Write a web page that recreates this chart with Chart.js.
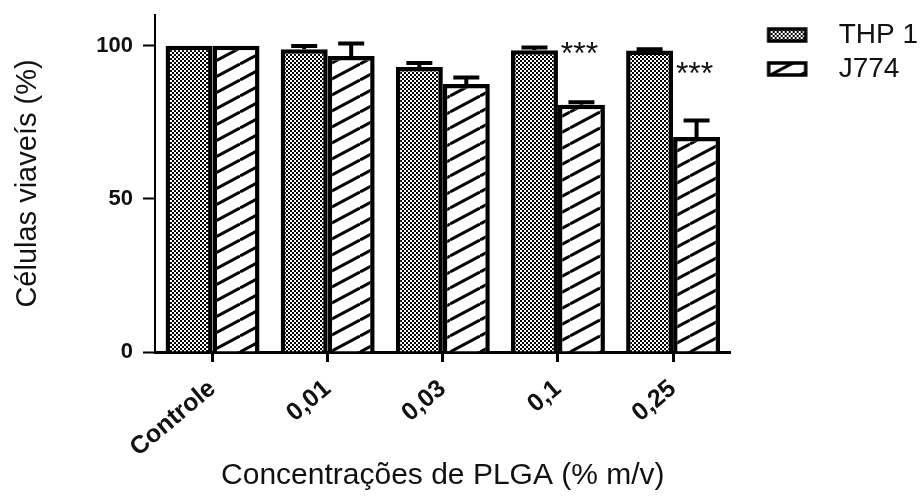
<!DOCTYPE html>
<html>
<head>
<meta charset="utf-8">
<script src="https://cdn.jsdelivr.net/npm/chart.js@4.4.1/dist/chart.umd.min.js"></script>
<style>
  html, body { margin: 0; padding: 0; background: #fff; }
  #wrap { width: 920px; height: 498px; }
</style>
</head>
<body>
<div id="wrap"><canvas id="chart" width="920" height="498"></canvas></div>
<script>
// PLGA concentrations (% m/v) and cell viability (%) per cell line
var concentrations = ["Controle", "0,01", "0,03", "0,1", "0,25"];
var thp1_values = [100, 98.8, 93.0, 98.5, 98.4];
var thp1_sem = [0, 1.1, 1.3, 0.9, 0.4];
var j774_values = [100, 96.6, 87.5, 80.7, 70.2];
var j774_sem = [0, 4.1, 2.1, 0.8, 5.4];
var significance = ["", "", "", "***", "***"];
var y_ticks = [0, 50, 100];

const FONT = "Arial, 'Liberation Sans', sans-serif";
const INK = "#111";

// fill patterns: checker dots for THP 1, "/" hatch for J774
function makeDots() {
  const c = document.createElement("canvas");
  c.width = 4; c.height = 4;
  const g = c.getContext("2d");
  g.fillStyle = "#fff";
  g.fillRect(0, 0, 4, 4);
  g.fillStyle = "#000";
  g.fillRect(0, 0, 2, 2);
  g.fillRect(2, 2, 2, 2);
  return c;
}

function makeHatch() {
  const w = 30, h = 16;
  const c = document.createElement("canvas");
  c.width = w; c.height = h;
  const g = c.getContext("2d");
  g.fillStyle = "#fff";
  g.fillRect(0, 0, w, h);
  g.strokeStyle = "#000";
  g.lineWidth = 3;
  for (let k = -1; k <= 1; k++) {
    g.beginPath();
    g.moveTo(0, h + k * h);
    g.lineTo(w, k * h);
    g.stroke();
  }
  return c;
}

const ctx = document.getElementById("chart").getContext("2d");
const dotFill = ctx.createPattern(makeDots(), "repeat");
const hatchFill = ctx.createPattern(makeHatch(), "repeat");

// legend swatch drawn into a wide transparent image so the text sits further right
const SWATCH_W = 88;
function legendSwatch(fill) {
  const c = document.createElement("canvas");
  c.width = SWATCH_W; c.height = 16;
  const g = c.getContext("2d");
  g.fillStyle = g.createPattern(fill === "dots" ? makeDots() : makeHatch(), "repeat");
  g.fillRect(32, 2, 37, 12);
  g.strokeStyle = "#000";
  g.lineWidth = 3.5;
  g.strokeRect(32, 2, 37, 12);
  return c;
}
const swatches = [legendSwatch("dots"), legendSwatch("hatch")];

// upward error bars, GraphPad style
const errorBars = {
  id: "errorBars",
  afterDatasetsDraw(chart) {
    const y = chart.scales.y;
    const c = chart.ctx;
    c.save();
    c.strokeStyle = "#000";
    c.lineWidth = 4;
    chart.data.datasets.forEach((ds, i) => {
      const meta = chart.getDatasetMeta(i);
      meta.data.forEach((bar, j) => {
        const err = ds.errors[j];
        if (!err) return;
        const top = y.getPixelForValue(ds.data[j] + err);
        c.beginPath();
        c.moveTo(bar.x, bar.y);
        c.lineTo(bar.x, top);
        c.moveTo(bar.x - 13, top);
        c.lineTo(bar.x + 13, top);
        c.stroke();
      });
    });
    c.restore();
  },
};

// significance stars next to the J774 bars
const stars = {
  id: "stars",
  afterDatasetsDraw(chart, args, opts) {
    const y = chart.scales.y;
    const meta = chart.getDatasetMeta(1);
    const c = chart.ctx;
    c.save();
    c.fillStyle = INK;
    c.font = "32px " + FONT;
    c.textAlign = "center";
    c.textBaseline = "alphabetic";
    significance.forEach((s, j) => {
      if (!s) return;
      const cy = y.getPixelForValue(opts.levels[j]);
      c.fillText(s, meta.data[j].x - 2, cy + 18);
    });
    c.restore();
  },
};

const config = {
  type: "bar",
  data: {
    labels: concentrations,
    datasets: [
      {
        label: "THP 1",
        data: thp1_values,
        errors: thp1_sem,
        backgroundColor: dotFill,
        borderColor: "#000",
        borderWidth: 4.5,
      },
      {
        label: "J774",
        data: j774_values,
        errors: j774_sem,
        backgroundColor: hatchFill,
        borderColor: "#000",
        borderWidth: 4.5,
      },
    ],
  },
  options: {
    responsive: false,
    animation: false,
    devicePixelRatio: 1,
    categoryPercentage: 0.816,
    barPercentage: 1,
    layout: { padding: { left: 7, top: 15, right: -8, bottom: 0 } },
    plugins: {
      legend: {
        position: "right",
        align: "start",
        labels: {
          usePointStyle: true,
          pointStyleWidth: SWATCH_W,
          padding: 6,
          color: INK,
          font: { family: FONT, size: 28 },
          generateLabels: function (chart) {
            const items = Chart.defaults.plugins.legend.labels.generateLabels(chart);
            items.forEach((it, i) => {
              it.pointStyle = swatches[i];
            });
            return items;
          },
        },
      },
      tooltip: { enabled: false },
      stars: { levels: [0, 0, 0, 99.9, 93.5] },
    },
    scales: {
      x: {
        grid: {
          display: true,
          drawOnChartArea: false,
          drawTicks: true,
          offset: false,
          tickLength: 10,
          tickWidth: 3,
          tickColor: "#000",
        },
        border: { display: true, color: "#000", width: 3 },
        ticks: {
          color: INK,
          font: { family: FONT, size: 25, weight: "bold" },
          minRotation: 40,
          maxRotation: 40,
          padding: 12,
        },
        title: {
          display: true,
          text: "Concentrações de PLGA (% m/v)",
          color: INK,
          font: { family: FONT, size: 30 },
        },
        afterFit: function (scale) {
          scale.height = 146;
        },
      },
      y: {
        min: 0,
        max: 110,
        afterBuildTicks: function (scale) {
          scale.ticks = y_ticks.map((v) => ({ value: v }));
        },
        grid: {
          display: true,
          drawOnChartArea: false,
          drawTicks: true,
          tickLength: 12,
          tickWidth: 2,
          tickColor: "#000",
        },
        border: { display: true, color: "#000", width: 2 },
        ticks: {
          color: INK,
          padding: 10,
          font: { family: FONT, size: 22, weight: "bold" },
        },
        title: {
          display: true,
          text: "Células viaveís (%)",
          color: INK,
          font: { family: FONT, size: 29 },
        },
        afterFit: function (scale) {
          scale.width = 148;
          scale.paddingTop = 0;
        },
      },
    },
  },
  plugins: [errorBars, stars],
};

var chart = new Chart(ctx, config);
</script>
</body>
</html>
